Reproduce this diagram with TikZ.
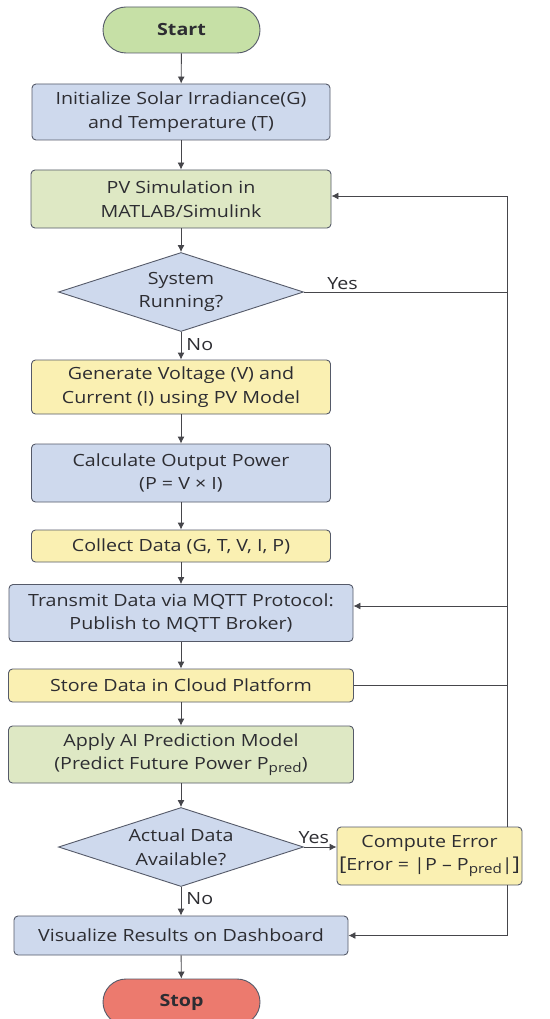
\documentclass[tikz,border=0pt]{standalone}
\usepackage{fontspec}
\setmainfont{Open Sans}[FakeStretch=1.17]
\usetikzlibrary{shapes.geometric,shapes.misc,arrows.meta}
\definecolor{bordc}{RGB}{85,90,105}
\definecolor{txt}{RGB}{45,45,50}
\definecolor{lnc}{RGB}{70,70,75}
\definecolor{gstart}{RGB}{198,224,166}
\definecolor{gbox}{RGB}{222,232,196}
\definecolor{bbox}{RGB}{206,217,237}
\definecolor{ybox}{RGB}{250,240,178}
\definecolor{rstop}{RGB}{236,122,110}
\newcommand\mysubpred{\raisebox{-0.35ex}{\fontsize{13}{13}\selectfont pred}}
\begin{document}
\begin{tikzpicture}[x=1pt,y=-1pt,
  font=\fontsize{16.8}{23.5}\selectfont,
  box/.style={draw=bordc, line width=0.9pt, rounded corners=4pt, align=center, text=txt, inner sep=0pt},
  term/.style={draw=bordc, line width=0.9pt, rounded rectangle, text=txt, inner sep=0pt, minimum width=157pt, minimum height=46pt},
  dia/.style={draw=bordc, line width=0.9pt, diamond, fill=bbox, minimum width=245pt, minimum height=79pt, inner sep=0pt},
  dtext/.style={align=center, text=txt, inner sep=0pt},
  lbl/.style={text=txt, inner sep=1pt},
  ln/.style={draw=lnc, line width=0.9pt},
  arr/.style={ln, -{Latex[length=7pt,width=7pt]}}
]
\useasboundingbox (0,0) rectangle (549,1019);
\fill[white] (0,0) rectangle (549,1019);

\coordinate (bx) at (507,0);

\node[term, fill=gstart] (start) at (181.5,30) {\bfseries Start};
\node[box, fill=bbox, minimum width=298pt, minimum height=56pt] (init) at (181,112)
  {Initialize Solar Irradiance(G)\\and Temperature (T)};
\node[box, fill=gbox, minimum width=300pt, minimum height=58pt] (pv) at (181,199)
  {PV Simulation in\\MATLAB/Simulink};
\node[dia] (sys) at (181,292) {};
\node[dtext] (syst) at (181,292) {System\\Running?};
\node[box, fill=ybox, minimum width=299pt, minimum height=54pt] (gen) at (181,387)
  {Generate Voltage (V) and\\Current (I) using PV Model};
\node[box, fill=bbox, minimum width=299pt, minimum height=58pt] (calc) at (181,473)
  {Calculate Output Power\\(P = V × I)};
\node[box, fill=ybox, minimum width=299pt, minimum height=32pt] (coll) at (181,546)
  {Collect Data (G, T, V, I, P)};
\node[box, fill=bbox, minimum width=344pt, minimum height=57pt] (tr) at (181,613)
  {Transmit Data via MQTT Protocol:\\Publish to MQTT Broker)};
\node[box, fill=ybox, minimum width=345pt, minimum height=33pt] (store) at (181,685.5)
  {Store Data in Cloud Platform};
\node[box, fill=gbox, minimum width=345pt, minimum height=57pt] (ai) at (181,754.5)
  {Apply AI Prediction Model\\(Predict Future Power P\mysubpred)};
\node[dia] (act) at (181,847) {};
\node[dtext] (actt) at (181,847) {Actual Data\\Available?};
\node[box, fill=ybox, minimum width=185pt, minimum height=58pt] (comp) at (429.5,856)
  {Compute Error\\{\fontsize{19}{19}\selectfont[}Error = |P – P\mysubpred|{\fontsize{19}{19}\selectfont]}};
\node[box, fill=bbox, minimum width=334pt, minimum height=39pt] (vis) at (181,935.5)
  {Visualize Results on Dashboard};
\node[term, fill=rstop] (stop) at (181.5,1002) {\bfseries Stop};

\draw[arr] (start) -- (init);
\draw[arr] (init) -- (pv);
\draw[arr] (pv) -- (sys);
\draw[arr] (sys) -- (gen) node[lbl, pos=0.45, right=4pt] (no1) {No};
\draw[arr] (gen) -- (calc);
\draw[arr] (calc) -- (coll);
\draw[arr] (coll) -- (tr);
\draw[arr] (tr) -- (store);
\draw[arr] (store) -- (ai);
\draw[arr] (ai) -- (act);
\draw[arr] (act) -- (vis) node[lbl, pos=0.4, right=4pt] (no2) {No};
\draw[arr] (vis) -- (stop);

\draw[ln] (sys.east) -- (sys.east -| bx) node[lbl, pos=0.19, above=1pt] (yes1) {Yes};
\draw[arr] (comp.north -| bx) |- ([yshift=3pt]pv.east);
\draw[arr] ([yshift=7pt]tr.east -| bx) -- ([yshift=7pt]tr.east);
\draw[ln] (store.east) -- (store.east -| bx);
\draw[arr] (act.east) -- (act.east -| comp.west) node[lbl, pos=0.3, above=2pt] (yes2) {Yes};
\draw[arr] (comp.south -| bx) |- (vis.east);
\end{tikzpicture}
\end{document}
